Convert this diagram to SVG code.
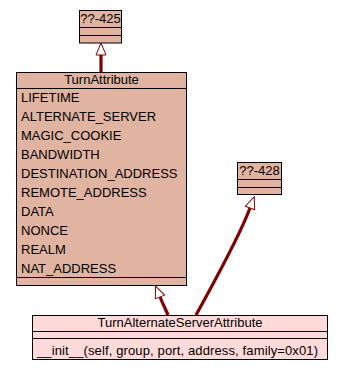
<svg xmlns="http://www.w3.org/2000/svg" width="344" height="370" viewBox="0 0 344 370">
  <defs>
    <style>
      .box { fill: #E0B4A0; stroke: #000; stroke-width: 1; }
      .box-sub { fill: #FFDADA; stroke: #000; stroke-width: 1; }
      .sep { stroke: #000; stroke-width: 1; fill: none; }
      .lbl { font-family: "Liberation Sans", Arial, sans-serif; font-size: 13px; fill: #000; }
      .mid { text-anchor: middle; }
      .edge { fill: none; stroke: #800000; stroke-width: 3.2; stroke-linecap: butt; }
    </style>
    <!-- hollow generalization arrowhead, tip extends past the path end -->
    <marker id="inherit" viewBox="-1 -1 14 12" refX="0" refY="5" markerWidth="14" markerHeight="12" markerUnits="userSpaceOnUse" orient="auto">
      <path d="M0,0 L12,5 L0,10 Z" fill="#fff" stroke="#800000" stroke-width="1"/>
    </marker>
  </defs>

  <rect width="344" height="370" fill="#fff"/>

  <g id="connectors">
    <path class="edge" d="M101,72 L101,55" marker-end="url(#inherit)"/>
    <path class="edge" d="M168,315 C165,308 162,302 160,297" marker-end="url(#inherit)"/>
    <path class="edge" d="M196,315 C215,280 238,240 250,208" marker-end="url(#inherit)"/>
  </g>

  <g id="node-425">
    <rect class="box" x="79.5" y="10.5" width="42" height="32.5"/>
    <line class="sep" x1="79.5" y1="27.5" x2="121.5" y2="27.5"/>
    <line class="sep" x1="79.5" y1="35.5" x2="121.5" y2="35.5"/>
    <text class="lbl mid" x="100.5" y="23">??-425</text>
  </g>

  <g id="node-TurnAttribute">
    <rect class="box" x="16.5" y="72.5" width="170" height="213"/>
    <line class="sep" x1="16.5" y1="88.5" x2="186.5" y2="88.5"/>
    <line class="sep" x1="16.5" y1="277.5" x2="186.5" y2="277.5"/>
    <text class="lbl mid" x="101.5" y="84">TurnAttribute</text>
    <text class="lbl" x="21" y="102">LIFETIME</text>
    <text class="lbl" x="21" y="121">ALTERNATE_SERVER</text>
    <text class="lbl" x="21" y="140">MAGIC_COOKIE</text>
    <text class="lbl" x="21" y="159">BANDWIDTH</text>
    <text class="lbl" x="21" y="178">DESTINATION_ADDRESS</text>
    <text class="lbl" x="21" y="197">REMOTE_ADDRESS</text>
    <text class="lbl" x="21" y="216">DATA</text>
    <text class="lbl" x="21" y="235">NONCE</text>
    <text class="lbl" x="21" y="254">REALM</text>
    <text class="lbl" x="21" y="273">NAT_ADDRESS</text>
  </g>

  <g id="node-428">
    <rect class="box" x="237.5" y="162.5" width="44" height="32"/>
    <line class="sep" x1="237.5" y1="179.5" x2="281.5" y2="179.5"/>
    <line class="sep" x1="237.5" y1="187.5" x2="281.5" y2="187.5"/>
    <text class="lbl mid" x="259.5" y="175">??-428</text>
  </g>

  <g id="node-TurnAlternateServerAttribute">
    <rect class="box-sub" x="32.5" y="315.5" width="295" height="44"/>
    <line class="sep" x1="32.5" y1="331.5" x2="327.5" y2="331.5"/>
    <line class="sep" x1="32.5" y1="338.5" x2="327.5" y2="338.5"/>
    <text class="lbl mid" x="180" y="327">TurnAlternateServerAttribute</text>
    <text class="lbl" x="37" y="355" textLength="281" lengthAdjust="spacing">__init__(self, group, port, address, family=0x01)</text>
  </g>
</svg>
